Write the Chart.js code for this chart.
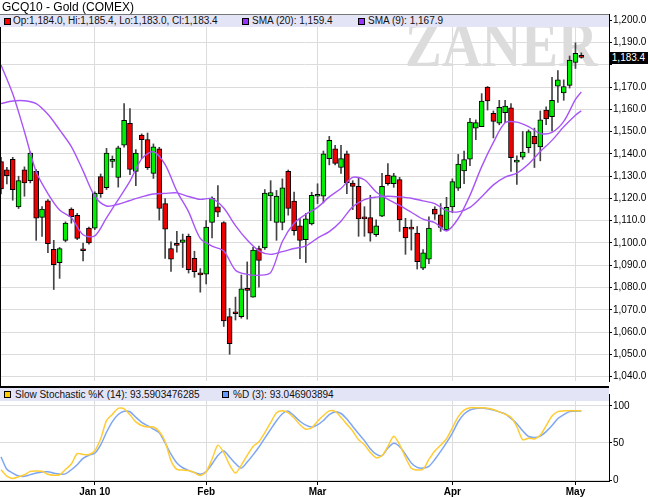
<!DOCTYPE html>
<html>
<head>
<meta charset="utf-8">
<title>GCQ10 - Gold (COMEX)</title>
<script src="https://cdn.jsdelivr.net/npm/chart.js@4.4.1/dist/chart.umd.min.js"></script>
<style>
  html, body { margin: 0; padding: 0; background: #fff; }
  #wrap { position: relative; width: 650px; height: 498px; overflow: hidden;
          font-family: "Liberation Sans", Arial, sans-serif; color: #111; }
  #title { position: absolute; left: 2px; top: 0; font-size: 12px; line-height: 14px; color: #000; }
  #mark { position: absolute; left: 405px; top: 13px; font: bold 64px/64px "Liberation Serif", serif;
          color: #dcdcdc; transform: scaleX(0.86); transform-origin: 0 0; white-space: nowrap; }
  canvas { position: absolute; left: 0; }
  #price { top: 0; }
  #stoch { top: 387px; }
  .band { position: absolute; left: 0; width: 609px; height: 13px; background: #e4e4f7;
          font-size: 10px; line-height: 13px; white-space: nowrap; color: #111; }
  .band span { position: absolute; top: 0; }
  .band i { position: absolute; top: 3px; width: 5px; height: 5px; border: 1px solid #000; }
  #band1 { top: 14px; border-top: 1px solid #777; height: 12px; line-height: 12px; }
  #band2 { top: 388px; }
  #sep { position: absolute; left: 0; top: 386px; width: 609px; height: 2px; background: #000; }
  #edge { position: absolute; left: 0; top: 14px; width: 1px; height: 373px; background: #000; }
  #tag { position: absolute; left: 609px; top: 52px; width: 39px; height: 12px; background: #000;
         color: #fff; font-size: 10px; line-height: 12px; text-align: center; }
</style>
</head>
<body>
<div id="wrap">
  <div id="mark">ZANER</div>
  <canvas id="price" width="650" height="388"></canvas>
  <canvas id="stoch" width="650" height="111"></canvas>
  <div id="sep"></div>
  <div id="edge"></div>
  <div class="band" id="band1">
    <i style="left:4px;background:#ff0000"></i><span id="ohlcText" style="left:13px"></span>
    <i style="left:242px;background:#9933ff"></i><span id="sma20Text" style="left:252px"></span>
    <i style="left:358px;background:#9933ff"></i><span id="sma9Text" style="left:368px"></span>
  </div>
  <div class="band" id="band2">
    <i style="left:4px;background:#ffcc00"></i><span id="kText" style="left:15px"></span>
    <i style="left:222px;background:#6699ff"></i><span id="dText" style="left:233px"></span>
  </div>
  <div id="tag"></div>
  <div id="title">GCQ10 - Gold (COMEX)</div>
</div>
<script>
// daily candles, Dec 2009 - May 2010 (index 16 = first session of Jan 2010)
const opens = [1136.6,1132.9,1137.6,1116.2,1132.9,1128.0,1132.2,1111.5,1118.9,1097.2,
  1091.2,1101.2,1115.2,1112.4,1096.6,1106.7,1106.7,1129.8,1124.8,1136.6,
  1129.5,1143.9,1153.7,1132.2,1148.5,1146.4,1131.3,1142.3,1117.7,1097.5,
  1099.7,1100.3,1103.0,1093.1,1086.6,1086.0,1109.2,1116.2,1109.2,1066.9,
  1068.4,1066.9,1079.4,1075.7,1097.5,1097.8,1121.1,1109.2,1109.2,1132.2,
  1118.8,1107.7,1101.5,1108.6,1121.0,1121.0,1137.9,1142.3,1133.9,1140.0,
  1126.9,1125.4,1111.4,1111.4,1103.7,1112.1,1130.5,1126.6,1128.5,1107.0,
  1107.1,1104.4,1088.7,1092.7,1115.2,1112.6,1105.9,1116.2,1124.6,1132.4,
  1137.6,1151.6,1152.3,1170.0,1158.2,1153.8,1158.5,1160.7,1136.3,1138.6,
  1142.8,1147.9,1143.2,1159.7,1156.8,1170.5,1167.4,1170.8,1181.1,1184.0];
const highs = [1138.5,1134.0,1138.5,1130.0,1134.2,1141.0,1133.0,1116.3,1119.5,1101.2,
  1098.0,1109.5,1115.8,1113.3,1100.0,1107.2,1123.0,1131.0,1142.5,1139.1,
  1143.5,1162.6,1160.4,1142.0,1149.0,1149.4,1144.5,1143.0,1119.9,1100.5,
  1105.2,1104.0,1104.0,1096.3,1088.5,1110.1,1120.7,1125.8,1109.6,1070.6,
  1075.7,1085.6,1091.5,1098.0,1098.6,1124.0,1128.0,1123.6,1128.8,1132.8,
  1122.9,1111.1,1113.3,1122.8,1126.6,1141.3,1147.9,1143.9,1143.9,1141.3,
  1128.0,1129.2,1116.3,1121.4,1110.4,1131.3,1135.7,1131.3,1129.5,1111.1,
  1110.4,1107.4,1097.0,1111.8,1116.3,1117.7,1120.5,1128.8,1139.8,1141.3,
  1156.0,1155.3,1167.1,1170.3,1159.3,1164.1,1164.1,1162.6,1139.1,1150.1,
  1150.8,1151.6,1159.3,1161.2,1174.4,1177.4,1173.3,1184.0,1189.9,1185.4];
const lows = [1122.0,1126.5,1119.2,1115.5,1121.0,1127.0,1101.2,1103.0,1095.6,1079.1,
  1084.1,1100.5,1108.9,1101.5,1091.9,1099.5,1106.0,1120.5,1124.0,1133.9,
  1125.1,1143.0,1130.7,1125.8,1138.0,1133.0,1129.0,1110.3,1093.1,1087.2,
  1095.9,1089.0,1086.5,1084.6,1077.9,1081.6,1102.3,1111.8,1062.5,1050.0,
  1065.4,1066.2,1065.8,1075.7,1080.1,1097.1,1110.0,1101.2,1105.9,1112.5,
  1103.5,1093.0,1091.2,1108.1,1117.7,1118.0,1135.1,1135.1,1131.3,1122.1,
  1115.0,1103.0,1103.0,1100.8,1103.0,1111.8,1126.0,1125.0,1105.2,1094.9,
  1096.8,1088.3,1088.0,1090.7,1110.6,1105.2,1105.6,1113.6,1123.6,1126.6,
  1134.7,1146.4,1152.3,1159.7,1147.2,1153.1,1154.1,1132.2,1126.3,1137.6,
  1140.6,1133.9,1136.9,1153.1,1150.4,1163.1,1164.1,1169.6,1178.4,1183.0];
const closes = [1124.3,1130.2,1123.9,1128.0,1127.0,1140.4,1111.1,1115.2,1099.7,1090.3,
  1097.5,1108.9,1111.8,1102.1,1096.5,1100.0,1122.4,1122.1,1140.4,1137.6,
  1142.8,1155.1,1133.0,1140.4,1146.4,1133.8,1143.2,1115.5,1106.2,1092.7,
  1098.9,1101.4,1088.0,1087.1,1085.6,1107.1,1120.2,1113.9,1065.0,1054.8,
  1068.2,1079.4,1078.7,1096.8,1092.2,1122.4,1122.7,1121.1,1124.8,1115.5,
  1105.5,1101.2,1110.8,1121.4,1121.3,1140.1,1146.1,1135.8,1137.9,1127.0,
  1125.4,1110.8,1110.8,1104.4,1107.7,1125.4,1126.6,1130.2,1110.4,1102.3,
  1106.2,1091.6,1095.6,1106.7,1112.9,1107.0,1116.0,1127.6,1135.4,1137.5,
  1154.3,1154.1,1163.7,1163.8,1154.6,1160.9,1161.5,1138.3,1137.2,1140.8,
  1150.1,1144.5,1155.3,1155.7,1164.1,1173.3,1170.3,1182.2,1185.2,1183.4];

// moving averages at every second session
const smaDays = [0,2,4,6,8,10,12,14,16,18,20,22,24,26,28,30,32,34,36,38,40,42,44,46,48,
  50,52,54,56,58,60,62,64,66,68,70,72,74,76,78,80,82,84,86,88,90,92,94,96,98,99];
const sma9 = [1180.0,1167.0,1150.0,1132.0,1122.2,1114.8,1111.3,1103.7,1103.2,1111.3,
  1119.5,1127.8,1137.8,1141.0,1135.2,1123.3,1114.0,1102.1,1098.6,1096.4,
  1087.8,1085.9,1085.5,1086.7,1100.7,1108.9,1112.9,1116.0,1120.7,1124.5,
  1129.5,1128.4,1122.9,1119.6,1116.9,1113.8,1110.7,1109.2,1105.4,1111.0,
  1121.4,1134.3,1145.2,1154.0,1154.3,1152.3,1149.2,1149.7,1154.6,1164.5,1167.9];
const sma20 = [1162.6,1163.8,1163.9,1162.6,1157.8,1150.8,1143.3,1132.4,1121.0,1116.6,
  1117.4,1119.1,1120.7,1122.0,1122.3,1122.5,1120.9,1119.6,1119.9,1115.7,
  1107.8,1101.3,1096.5,1094.9,1096.1,1097.5,1098.7,1102.2,1105.1,1109.8,
  1116.3,1119.5,1120.6,1121.0,1120.7,1120.1,1118.9,1117.7,1114.5,1114.0,
  1116.0,1120.8,1126.1,1129.6,1131.4,1135.5,1141.1,1146.1,1152.2,1157.4,1159.4];

// slow stochastic, one value per session
const stochK = [14,5.2,2.2,4.5,7.2,11.7,12.3,11.8,7.9,6.6,
  7.1,14.2,21.7,35.7,34.6,34.5,39.5,55.7,80.2,88.5,
  96.7,96,88,78.4,73.5,71.5,71.5,65.5,51.7,26.2,
  14.3,13.5,12.8,10,6,11,28.1,47,37,20.4,
  9.5,20.2,33.3,45.3,51.7,64,77.4,90.6,93.3,90.5,
  83.6,74.6,68.6,70.5,79.3,87,93.2,92.6,84.7,75.2,
  66.1,54.2,47.5,37.3,30,33,45.5,59.2,47.8,30.5,
  16,13.6,14.6,27.8,39.3,46.9,55.7,70.3,85.6,94.3,
  97.5,97.5,97.4,96.9,95,92,88.8,84.7,72,54.4,
  56.5,55.3,60.6,73.4,86.3,92.3,93.3,93.3,93.5,93.5903476285];
const stochD = [31.3,14.5,9.4,5.4,5.1,7.3,9.4,10.8,11.2,9.3,
  8.1,8.3,13.9,20.6,29.2,33.5,36.2,47.5,64.4,78.8,
  88.3,92.8,92.1,84.7,77.8,73.4,68.7,63.9,50,34.9,
  22.9,16.6,13,10.1,8,11.5,21.7,33.1,39.1,31,
  22.3,16.1,24.2,33.9,44.6,56.6,68.3,80,89.4,92.9,
  86.5,79.3,74,71.6,74.5,80.3,88.2,91.9,89.7,82.3,
  72.3,62.3,53.2,42.3,34.9,32.9,43.1,49.6,45.1,34.6,
  23.1,17.1,16.1,18.5,27.7,38.6,50.4,63.4,78.6,89,
  94.5,96.4,97.2,96.2,94.3,91.9,89.1,83.1,76,66.4,
  58.7,57.5,59.3,65.3,73.4,83,88.2,92.5,92.8,93.046903894];

const monthDays = [16, 35, 54, 77, 98];
const monthLabels = ['Jan 10', 'Feb', 'Mar', 'Apr', 'May'];
const priceTicks = [1040,1050,1060,1070,1080,1090,1100,1110,1120,1130,1140,1150,1160,1170,1180,1190,1200];
const stochTicks = [0, 50, 100];

const fmt = v => v.toLocaleString('en-US', {minimumFractionDigits: 1, maximumFractionDigits: 1});
const last = closes.length - 1;
document.getElementById('ohlcText').textContent =
  'Op:' + fmt(opens[last]) + ', Hi:' + fmt(highs[last]) + ', Lo:' + fmt(lows[last]) + ', Cl:' + fmt(closes[last]);
document.getElementById('sma20Text').textContent = 'SMA (20): ' + fmt(sma20[sma20.length - 1]);
document.getElementById('sma9Text').textContent = 'SMA (9): ' + fmt(sma9[sma9.length - 1]);
document.getElementById('kText').textContent = 'Slow Stochastic %K (14): ' + stochK[last];
document.getElementById('dText').textContent = '%D (3): ' + stochD[last];
document.getElementById('tag').textContent = fmt(closes[last]);

Chart.defaults.font.family = '"Liberation Sans", Arial, sans-serif';
Chart.defaults.font.size = 10;
Chart.defaults.color = '#000';

const xMin = -0.172, xMax = 103.72;
const gridCol = '#dcdcdc';
const days = closes.map((c, i) => i);
const upCol = '#00ee00', downCol = '#ee0000';

new Chart(document.getElementById('price'), {
  type: 'bar',
  data: {
    datasets: [
      {
        type: 'line', data: smaDays.map((d, k) => ({x: d, y: sma9[k]})),
        borderColor: '#a855f7', borderWidth: 1.4, pointRadius: 0, tension: 0.3, order: 0
      },
      {
        type: 'line', data: smaDays.map((d, k) => ({x: d, y: sma20[k]})),
        borderColor: '#a855f7', borderWidth: 1.4, pointRadius: 0, tension: 0.3, order: 0
      },
      {
        data: days.map(i => ({x: i, y: [opens[i], closes[i]]})),
        backgroundColor: days.map(i => closes[i] >= opens[i] ? upCol : downCol),
        borderColor: '#000', borderWidth: 1, borderSkipped: false,
        barThickness: 5, minBarLength: 2, grouped: false, order: 1
      },
      {
        data: days.map(i => ({x: i, y: [lows[i], highs[i]]})),
        backgroundColor: '#444', barThickness: 1, grouped: false, order: 2
      }
    ]
  },
  options: {
    responsive: false, animation: false, devicePixelRatio: 1,
    layout: {padding: {top: 14, bottom: 1, left: 0, right: 0}},
    plugins: {legend: {display: false}, tooltip: {enabled: false}},
    scales: {
      x: {
        type: 'linear', min: xMin, max: xMax, offset: false,
        grid: {color: gridCol, drawTicks: false, offset: false},
        border: {display: false},
        ticks: {display: false},
        afterBuildTicks: s => { s.ticks = monthDays.map(v => ({value: v})); },
        afterFit: s => { s.height = 0; }
      },
      y: {
        position: 'right', min: 1038.0, max: 1202.87,
        grid: {color: gridCol, tickColor: '#000', tickLength: 3},
        border: {color: '#000', width: 1},
        ticks: {
          padding: 1,
          callback: v => Math.abs(v - closes[last]) < 4 ? '' : fmt(v)
        },
        afterBuildTicks: s => { s.ticks = priceTicks.map(v => ({value: v})); },
        afterFit: s => { s.width = 41; }
      }
    }
  }
});

new Chart(document.getElementById('stoch'), {
  type: 'line',
  data: {
    datasets: [
      {
        data: days.map(i => ({x: i, y: stochK[i]})),
        borderColor: '#ffcc33', borderWidth: 1.5, pointRadius: 0, tension: 0.25, order: 0
      },
      {
        data: days.map(i => ({x: i, y: stochD[i]})),
        borderColor: '#7ea6f2', borderWidth: 1.5, pointRadius: 0, tension: 0.25, order: 1
      }
    ]
  },
  options: {
    responsive: false, animation: false, devicePixelRatio: 1,
    layout: {padding: {top: 1, bottom: 0, left: 0, right: 0}},
    plugins: {legend: {display: false}, tooltip: {enabled: false}},
    scales: {
      x: {
        type: 'linear', min: xMin, max: xMax, offset: false,
        grid: {color: gridCol, tickColor: '#000', tickLength: 4},
        border: {color: '#000', width: 1},
        ticks: {
          padding: 1, maxRotation: 0, autoSkip: false,
          font: {weight: 'bold', size: 10},
          callback: (v, i) => monthLabels[i]
        },
        afterBuildTicks: s => { s.ticks = monthDays.map(v => ({value: v})); },
        afterFit: s => { s.height = 17; }
      },
      y: {
        position: 'right', min: -1.26, max: 116,
        grid: {color: gridCol, tickColor: '#000', tickLength: 3},
        border: {color: '#000', width: 1},
        ticks: {padding: 1},
        afterBuildTicks: s => { s.ticks = stochTicks.map(v => ({value: v})); },
        afterFit: s => { s.width = 41; }
      }
    }
  }
});
</script>
</body>
</html>
